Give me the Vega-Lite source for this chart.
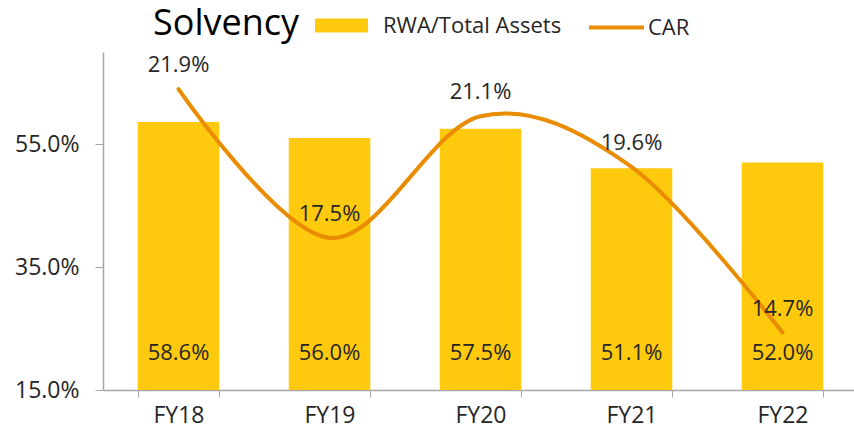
{
  "$schema": "https://vega.github.io/schema/vega-lite/v6.json",
  "autosize": "none",
  "width": 755,
  "height": 338,
  "padding": {"left": 103, "top": 52, "right": 0, "bottom": 45},
  "background": "white",
  "config": {
    "view": {"stroke": null},
    "font": "Open Sans",
    "axis": {"labelFont": "Open Sans", "labelColor": "#262626", "domainColor": "#A6A6A6", "tickColor": "#A6A6A6", "grid": false, "title": null},
    "legend": {"labelFont": "Open Sans", "labelFontSize": 22, "labelColor": "#262626", "title": null, "labelLimit": 0}
  },
  "title": {
    "text": "Solvency",
    "anchor": "start",
    "frame": "group",
    "fontSize": 36,
    "fontWeight": "normal",
    "color": "#000000",
    "font": "Open Sans",
    "dx": 50,
    "dy": 55,
    "offset": 10
  },
  "data": {
    "values": [
      {"year": "FY18", "rwa": 0.586, "car": 0.219},
      {"year": "FY19", "rwa": 0.560, "car": 0.175},
      {"year": "FY20", "rwa": 0.575, "car": 0.211},
      {"year": "FY21", "rwa": 0.511, "car": 0.196},
      {"year": "FY22", "rwa": 0.520, "car": 0.147}
    ]
  },
  "encoding": {
    "x": {
      "field": "year",
      "type": "nominal",
      "sort": null,
      "scale": {"paddingInner": 0.46, "paddingOuter": 0.23},
      "axis": {"labelAngle": 0, "labelFontSize": 23, "tickBand": "extent", "tickSize": 7, "labelPadding": 7, "domainWidth": 1.5}
    }
  },
  "layer": [
    {
      "layer": [
        {
          "mark": {"type": "bar"},
          "encoding": {
            "y": {
              "field": "rwa",
              "type": "quantitative",
              "scale": {"domain": [0.15, 0.70], "zero": false, "nice": false},
              "axis": {"values": [0.15, 0.35, 0.55], "format": ".1%", "labelFontSize": 23, "tickSize": 8, "labelPadding": 16, "domainWidth": 1.5}
            },
            "y2": {"datum": 0.15},
            "color": {
              "datum": "RWA/Total Assets",
              "scale": {"range": ["#FFC90E"]},
              "legend": {
                "orient": "none",
                "legendX": 211,
                "legendY": -54,
                "symbolType": "M-1,-0.264H1V0.264H-1Z",
                "symbolSize": 2809,
                "symbolOpacity": 1,
                "labelOffset": 14
              }
            }
          }
        },
        {
          "mark": {"type": "text", "fontSize": 22, "color": "#262626", "baseline": "middle"},
          "encoding": {
            "y": {"datum": 0.21},
            "text": {"field": "rwa", "type": "quantitative", "format": ".1%"}
          }
        }
      ]
    },
    {
      "layer": [
        {
          "mark": {"type": "line", "interpolate": "cardinal", "strokeWidth": 4, "strokeCap": "round"},
          "encoding": {
            "y": {
              "field": "car",
              "type": "quantitative",
              "scale": {"domain": [0.13, 0.23], "zero": false, "nice": false},
              "axis": null
            },
            "stroke": {
              "datum": "CAR",
              "scale": {"range": ["#EA8C00"]},
              "legend": {
                "orient": "none",
                "legendX": 484,
                "legendY": -54,
                "symbolType": "stroke",
                "symbolSize": 3025,
                "symbolStrokeWidth": 4,
                "labelOffset": 2
              }
            }
          }
        },
        {
          "mark": {"type": "text", "fontSize": 22, "color": "#262626", "baseline": "middle", "dy": -24},
          "encoding": {
            "y": {"field": "car", "type": "quantitative"},
            "text": {"field": "car", "type": "quantitative", "format": ".1%"}
          }
        }
      ]
    }
  ],
  "resolve": {"scale": {"y": "independent"}}
}
